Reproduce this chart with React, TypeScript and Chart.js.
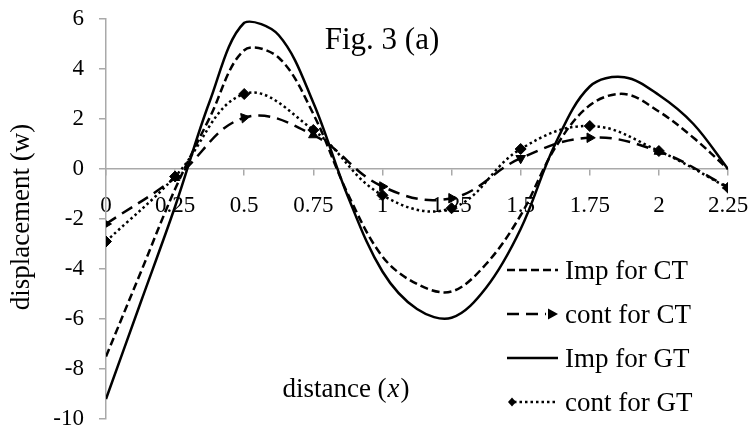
import React, { useEffect, useRef } from "react";
import { Chart, registerables } from "chart.js";

Chart.register(...registerables);

// ---- data ----
const X_FINE = [0, 0.125, 0.25, 0.375, 0.5, 0.625, 0.75, 0.875, 1, 1.125, 1.25, 1.375, 1.5, 1.625, 1.75, 1.875, 2, 2.125, 2.25];
const IMP_CT = [-7.5, -4.15, -0.8, 2.05, 4.75, 4.45, 2.2, -1.0, -3.5, -4.6, -4.9, -3.8, -1.85, 0.85, 2.55, 3.0, 2.3, 1.25, 0];
const IMP_GT = [-9.2, -5.35, -1.5, 2.7, 5.85, 5.35, 2.65, -1.1, -4.1, -5.6, -5.95, -4.75, -2.4, 1.0, 3.3, 3.67, 2.96, 1.8, 0];

const X_COARSE = [0, 0.25, 0.5, 0.75, 1, 1.25, 1.5, 1.75, 2, 2.25];
const CONT_CT = [-2.2, -0.35, 2.05, 1.36, -0.7, -1.17, 0.43, 1.25, 0.7, -0.72];
const CONT_GT = [-2.9, -0.3, 3.0, 1.56, -1.05, -1.57, 0.8, 1.72, 0.72, -0.75];

const X_TICKS = [0, 0.25, 0.5, 0.75, 1, 1.25, 1.5, 1.75, 2, 2.25];
const X_TICK_LABELS = ["0", "0.25", "0.5", "0.75", "1", "1.25", "1.5", "1.75", "2", "2.25"];
const Y_TICKS = [-10, -8, -6, -4, -2, 0, 2, 4, 6];
const Y_TICK_LABELS = ["-10", "-8", "-6", "-4", "-2", "0", "2", "4", "6"];

const SERIES_LABELS = ["Imp for CT", "cont for CT", "Imp for GT", "cont for GT"];
const TITLE = "Fig. 3 (a)";
const X_TITLE_MAIN = "distance ";
const X_TITLE_VAR = "x";
const Y_TITLE = "displacement (w)";

// ---- style ----
const FONT = '"Liberation Serif", "Times New Roman", serif';
const AXIS = "#a9a9a9";
const TRI_ROT = [90, 240, 200, 240, 330, 90, 60, 90, 120, 135];

const pts = (xs: number[], ys: number[]) => xs.map((x, i) => ({ x, y: ys[i] }));

const overlay = {
  id: "overlay",
  afterDraw(chart: any) {
    const ctx = chart.ctx as CanvasRenderingContext2D;
    ctx.save();
    ctx.fillStyle = "#000";
    ctx.strokeStyle = "#000";

    // title
    ctx.font = `31px ${FONT}`;
    ctx.textAlign = "center";
    ctx.textBaseline = "alphabetic";
    ctx.fillText(TITLE, 382, 49);

    // x title
    ctx.font = `27px ${FONT}`;
    const w1 = ctx.measureText(X_TITLE_MAIN + "(").width;
    ctx.font = `italic 27px ${FONT}`;
    const w2 = ctx.measureText(X_TITLE_VAR).width;
    ctx.font = `27px ${FONT}`;
    const w3 = ctx.measureText(")").width;
    let sx = 345 - (w1 + w2 + w3) / 2;
    ctx.textAlign = "left";
    ctx.fillText(X_TITLE_MAIN + "(", sx, 397);
    sx += w1;
    ctx.font = `italic 27px ${FONT}`;
    ctx.fillText(X_TITLE_VAR, sx + 1, 397);
    sx += w2 + 2;
    ctx.font = `27px ${FONT}`;
    ctx.fillText(")", sx, 397);

    // y title
    ctx.save();
    ctx.translate(29, 217);
    ctx.rotate(-Math.PI / 2);
    ctx.textAlign = "center";
    ctx.fillText(Y_TITLE, 0, 0);
    ctx.restore();

    // legend
    const rows = [270, 314, 358, 402];
    const x0 = 507, x1 = 558;
    ctx.lineWidth = 2.5;
    ctx.lineCap = "butt";
    chart.data.datasets.forEach((ds: any, i: number) => {
      const y = rows[i];
      ctx.save();
      ctx.setLineDash(ds.borderDash || []);
      ctx.beginPath();
      if (i === 1) {
        ctx.moveTo(x0, y);
        ctx.lineTo(x1 - 12, y);
      } else if (i === 3) {
        ctx.moveTo(x0 + 7, y);
        ctx.lineTo(x1 - 2, y);
      } else {
        ctx.moveTo(x0, y);
        ctx.lineTo(x1, y);
      }
      ctx.stroke();
      ctx.restore();
      if (i === 1) {
        ctx.beginPath();
        ctx.moveTo(x1, y);
        ctx.lineTo(x1 - 10, y - 5.5);
        ctx.lineTo(x1 - 10, y + 5.5);
        ctx.closePath();
        ctx.fill();
      }
      if (i === 3) {
        ctx.beginPath();
        ctx.moveTo(x0 + 1, y);
        ctx.lineTo(x0 + 5, y - 4.5);
        ctx.lineTo(x0 + 9, y);
        ctx.lineTo(x0 + 5, y + 4.5);
        ctx.closePath();
        ctx.fill();
      }
      ctx.font = `27px ${FONT}`;
      ctx.textAlign = "left";
      ctx.textBaseline = "alphabetic";
      ctx.fillText(ds.label, 565, y + 9);
    });
    ctx.restore();
  },
};

export default function App() {
  const ref = useRef<HTMLCanvasElement | null>(null);
  useEffect(() => {
    if (!ref.current) return;
    const chart = new Chart(ref.current, {
      type: "line",
      data: {
        datasets: [
          {
            label: SERIES_LABELS[0],
            data: pts(X_FINE, IMP_CT),
            borderColor: "#000",
            borderWidth: 2.5,
            borderDash: [8, 4],
            pointRadius: 0,
            tension: 0.35,
            fill: false,
          },
          {
            label: SERIES_LABELS[1],
            data: pts(X_COARSE, CONT_CT),
            borderColor: "#000",
            backgroundColor: "#000",
            borderWidth: 2.5,
            borderDash: [12, 7],
            pointStyle: "triangle",
            pointRadius: 5.5,
            pointBorderWidth: 1,
            pointRotation: TRI_ROT,
            tension: 0.4,
            fill: false,
          },
          {
            label: SERIES_LABELS[2],
            data: pts(X_FINE, IMP_GT),
            borderColor: "#000",
            borderWidth: 2.5,
            pointRadius: 0,
            tension: 0.35,
            fill: false,
          },
          {
            label: SERIES_LABELS[3],
            data: pts(X_COARSE, CONT_GT),
            borderColor: "#000",
            backgroundColor: "#000",
            borderWidth: 2.5,
            borderDash: [2.5, 3],
            pointStyle: "rectRot",
            pointRadius: 5.5,
            pointBorderWidth: 1,
            tension: 0.4,
            fill: false,
          },
        ],
      },
      options: {
        responsive: false,
        animation: false,
        devicePixelRatio: 1,
        layout: { padding: { left: 0, top: 19, right: 25, bottom: 11 } },
        plugins: { legend: { display: false }, tooltip: { enabled: false }, title: { display: false } },
        scales: {
          x: {
            type: "linear",
            position: { y: 0 },
            min: 0,
            max: 2.25,
            afterBuildTicks: (s: any) => {
              s.ticks = X_TICKS.map((v) => ({ value: v }));
            },
            afterFit: (s: any) => {
              s.paddingLeft = 0;
              s.paddingRight = 0;
            },
            ticks: {
              autoSkip: false,
              maxRotation: 0,
              padding: 17,
              color: "#000",
              font: { family: FONT, size: 23 },
              callback: (v: any) => X_TICK_LABELS[X_TICKS.indexOf(Number(v))] ?? "",
            },
            grid: { drawOnChartArea: false, tickLength: 6, color: AXIS, lineWidth: 1.5 },
            border: { color: AXIS, width: 1.5 },
          },
          y: {
            type: "linear",
            min: -10,
            max: 6,
            afterBuildTicks: (s: any) => {
              s.ticks = Y_TICKS.map((v) => ({ value: v }));
            },
            afterFit: (s: any) => {
              s.width = 106;
              s.paddingTop = 0;
              s.paddingBottom = 0;
            },
            ticks: {
              padding: 15,
              color: "#000",
              font: { family: FONT, size: 23 },
              callback: (v: any) => Y_TICK_LABELS[Y_TICKS.indexOf(Number(v))] ?? "",
            },
            grid: { drawOnChartArea: false, tickLength: 7, color: AXIS, lineWidth: 1.5 },
            border: { color: AXIS, width: 1.5 },
          },
        },
      } as any,
      plugins: [overlay],
    });
    return () => chart.destroy();
  }, []);
  return (
    <div style={{ position: "fixed", left: 0, top: 0, width: 753, height: 430, background: "#fff" }}>
      <canvas ref={ref} width={753} height={430} style={{ display: "block" }} />
    </div>
  );
}
